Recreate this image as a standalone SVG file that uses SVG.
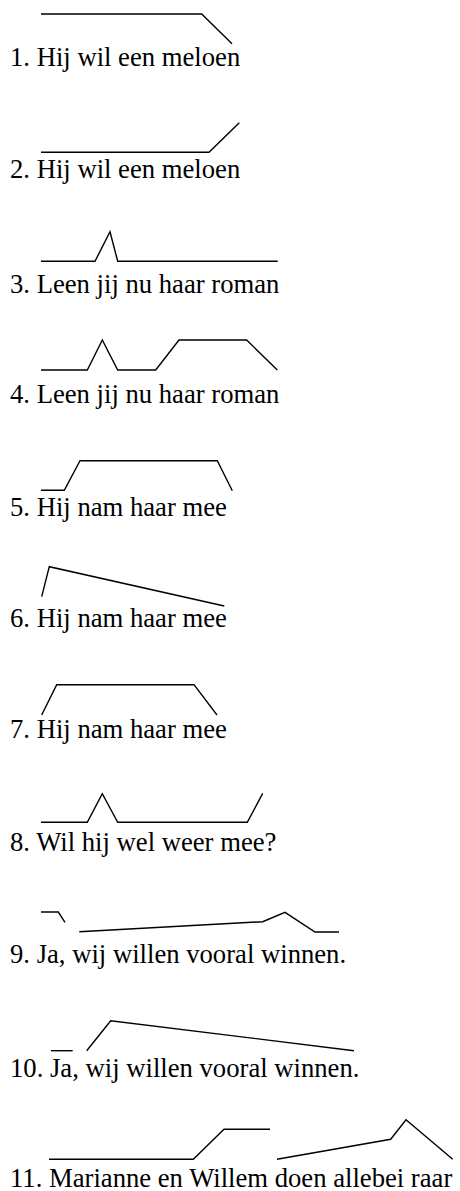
<svg xmlns="http://www.w3.org/2000/svg" width="460" height="1191" viewBox="0 0 460 1191">
<style>
text{font-family:"Liberation Serif","Times New Roman",serif;font-size:26.67px;fill:#000}
.c{fill:none;stroke:#000;stroke-width:1.4;stroke-linejoin:miter}
</style>
<rect width="460" height="1191" fill="#fff"/>
<g id="contours">
<polyline class="c" points="41,14 201.7,14 232,43.7"/>
<polyline class="c" points="41,152.3 209,152.3 239.3,122.7"/>
<polyline class="c" points="41,261.3 95,261.3 110,231.7 117.7,261.3 277.7,261.3"/>
<polyline class="c" points="41,370 87.3,370 102.3,340 117.7,370 155.7,370 179,340 246.7,340 277.3,370"/>
<polyline class="c" points="41,490.3 64.3,490.3 80,460.7 217.3,460.7 232.3,490.7"/>
<polyline class="c" points="41.7,596.7 49.3,566.7 224.3,606"/>
<polyline class="c" points="41.7,715 56.7,684.7 194,684.7 217,715"/>
<polyline class="c" points="41,822.3 87.3,822.3 102.3,793.7 117.7,822.3 247.3,822.3 262.7,793.3"/>
<polyline class="c" points="41,912 58.3,912 65,922.3"/>
<polyline class="c" points="79.3,931.7 262.7,921.7 285,912.3 315,932 339,932"/>
<polyline class="c" points="51,1050.7 72.7,1050.7"/>
<polyline class="c" points="86.7,1050.7 110.7,1020.7 354,1050.7"/>
<polyline class="c" points="49,1159.3 193.3,1159.3 224,1129.3 270,1129.3"/>
<polyline class="c" points="277,1159.3 390.7,1139.3 406,1119.7 452.7,1159.3"/>
</g>
<g id="sentences">
<text x="10" y="65.7">1. Hij wil een meloen</text>
<text x="10" y="177.7">2. Hij wil een meloen</text>
<text x="10" y="292.7">3. Leen jij nu haar roman</text>
<text x="10" y="402.7">4. Leen jij nu haar roman</text>
<text x="10" y="516">5. Hij nam haar mee</text>
<text x="10" y="627.3">6. Hij nam haar mee</text>
<text x="10" y="738.3">7. Hij nam haar mee</text>
<text x="10" y="850.7">8. Wil hij wel weer mee?</text>
<text x="10" y="962.7">9. Ja, wij willen vooral winnen.</text>
<text x="10" y="1076.7">10. Ja, wij willen vooral winnen.</text>
<text x="10" y="1186.7">11. Marianne en Willem doen allebei raar</text>
</g>
</svg>
